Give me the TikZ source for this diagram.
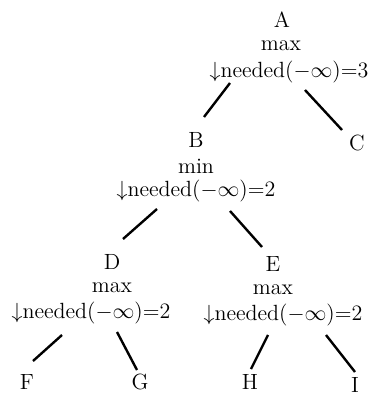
\documentclass[tikz,border=0pt]{standalone}
\begin{document}
\begin{tikzpicture}[x=0.5pt,y=-0.5pt,
  lbl/.style={inner sep=0pt,anchor=center,font=\fontsize{11}{13}\selectfont},
  edge/.style={line width=1.2pt}]
\useasboundingbox (0,0) rectangle (371,394);
% A
\node[lbl] (A) at (282,20) {A};
\node[lbl] (Amax) at (281,46) {max};
\node[lbl] (Aneed) at (289,72) {$\downarrow$needed($-\infty$)=3};
% C
\node[lbl] (C) at (357,143) {C};
% B
\node[lbl] (B) at (196,140) {B};
\node[lbl] (Bmin) at (196,166) {min};
\node[lbl] (Bneed) at (196,191) {$\downarrow$needed($-\infty$)=2};
% D
\node[lbl] (D) at (112,262) {D};
\node[lbl] (Dmax) at (112,288) {max};
\node[lbl] (Dneed) at (91,313) {$\downarrow$needed($-\infty$)=2};
% E
\node[lbl] (E) at (273,264) {E};
\node[lbl] (Emax) at (273,290) {max};
\node[lbl] (Eneed) at (283,315) {$\downarrow$needed($-\infty$)=2};
% leaves
\node[lbl] (F) at (27,382) {F};
\node[lbl] (G) at (140,382) {G};
\node[lbl] (H) at (250,382) {H};
\node[lbl] (I) at (355,385) {I};
% edges
\draw[edge] ([shift={(-59,11)}]Aneed.center) -- ([shift={(8,-23)}]B.center);
\draw[edge] ([shift={(16,18)}]Aneed.center) -- ([shift={(-15,-13)}]C.center);
\draw[edge] ([shift={(-39,18)}]Bneed.center) -- ([shift={(11,-23)}]D.center);
\draw[edge] ([shift={(34,20)}]Bneed.center) -- ([shift={(-11,-17)}]E.center);
\draw[edge] ([shift={(-29,22)}]Dneed.center) -- ([shift={(6,-21)}]F.center);
\draw[edge] ([shift={(26,19)}]Dneed.center) -- ([shift={(-3,-12)}]G.center);
\draw[edge] ([shift={(-15,20)}]Eneed.center) -- ([shift={(1,-13)}]H.center);
\draw[edge] ([shift={(43,20)}]Eneed.center) -- ([shift={(0,-13)}]I.center);
\end{tikzpicture}
\end{document}
